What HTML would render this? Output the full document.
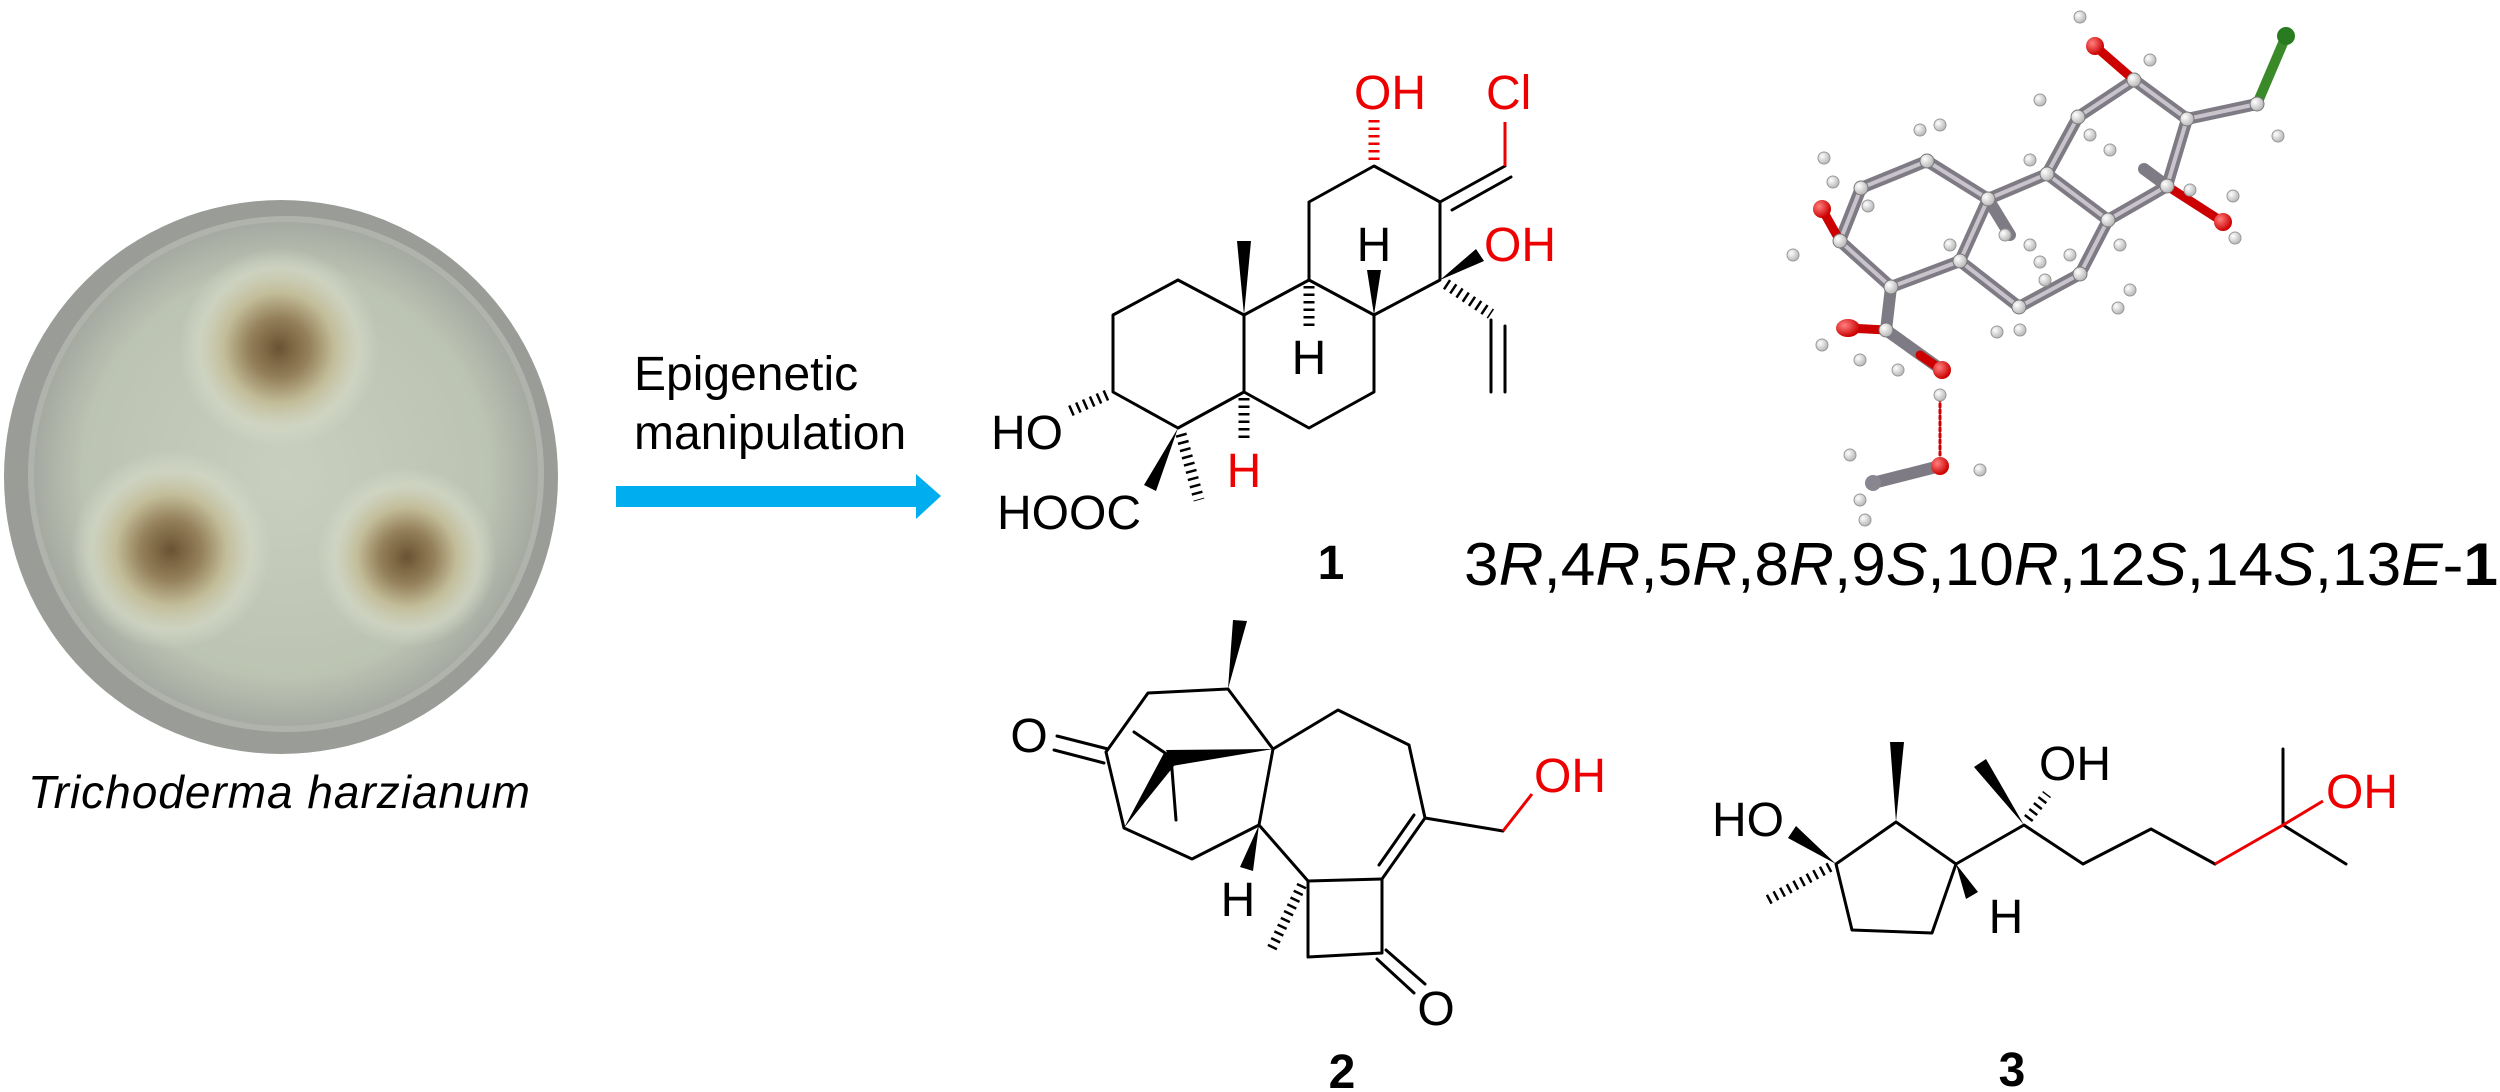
<!DOCTYPE html>
<html><head><meta charset="utf-8"><style>
html,body{margin:0;padding:0;background:#fff}
svg{display:block}
text{font-family:"Liberation Sans",Arial,sans-serif}
</style></head><body>
<svg width="2500" height="1092" viewBox="0 0 2500 1092" xmlns="http://www.w3.org/2000/svg">
<defs>
<radialGradient id="dish" cx="50%" cy="50%" r="50%">
<stop offset="0" stop-color="#c9cfbf"/><stop offset="0.8" stop-color="#bcc3b2"/><stop offset="1" stop-color="#a4a8a0"/>
</radialGradient>
<radialGradient id="col" cx="50%" cy="50%" r="50%">
<stop offset="0" stop-color="#6a5232"/><stop offset="0.3" stop-color="#94805a"/><stop offset="0.55" stop-color="#c2bc98"/><stop offset="0.8" stop-color="#d3d8c5" stop-opacity="0.7"/><stop offset="1" stop-color="#d6dacb" stop-opacity="0"/>
</radialGradient>
<radialGradient id="ball" cx="35%" cy="35%" r="65%"><stop offset="0" stop-color="#ffffff"/><stop offset="1" stop-color="#b9b9b9"/></radialGradient>
<radialGradient id="red" cx="35%" cy="35%" r="65%"><stop offset="0" stop-color="#ff8080"/><stop offset="1" stop-color="#cc0000"/></radialGradient>
</defs>

<!-- Petri dish -->
<circle cx="281" cy="477" r="277" fill="#999c97"/>
<circle cx="286" cy="474" r="255" fill="url(#dish)" stroke="#b0b3ac" stroke-width="6"/>
<circle cx="279" cy="348" r="100" fill="url(#col)"/>
<circle cx="171" cy="550" r="100" fill="url(#col)"/>
<circle cx="407" cy="557" r="90" fill="url(#col)"/>
<text x="28" y="808" font-size="46" font-style="italic" textLength="502">Trichoderma harzianum</text>

<!-- arrow -->
<text x="634" y="390" font-size="48">Epigenetic</text>
<text x="634" y="449" font-size="48">manipulation</text>
<rect x="616" y="486" width="304" height="21" fill="#00AEEF"/>
<polygon points="916,474 941,496 916,519" fill="#00AEEF"/>

<!-- Structure 1 -->
<g stroke="#000" stroke-width="3" fill="none" stroke-linejoin="round" stroke-linecap="round">
<polyline points="1178,280 1113,315 1113,392 1178,428 1244,392 1244,315 1178,280"/>
<polyline points="1244,315 1309,280 1374,315 1374,392 1309,428 1244,392"/>
<polyline points="1309,280 1309,202 1374,166 1440,202 1440,280 1374,315"/>
<line x1="1440" y1="202" x2="1505" y2="166"/>
<line x1="1452" y1="210" x2="1511" y2="177"/>
<line x1="1491" y1="320" x2="1491" y2="392"/>
<line x1="1505" y1="326" x2="1505" y2="392"/>
</g>
<line x1="1505" y1="166" x2="1505" y2="122" stroke="#e00" stroke-width="3"/>
<g fill="#000">
<polygon points="1244,315 1237,241 1251,241"/>
<polygon points="1374,315 1367,270 1381,270"/>
<polygon points="1440,280 1476,249 1484,261"/>
<polygon points="1178,428 1144,485 1156,491"/>
</g>
<g stroke="#000" stroke-width="11" stroke-dasharray="2.5 5" fill="none">
<line x1="1309" y1="286" x2="1309" y2="330"/>
<line x1="1446" y1="284" x2="1491" y2="314"/>
<line x1="1244" y1="398" x2="1244" y2="441"/>
<line x1="1107" y1="395" x2="1068" y2="412"/>
<line x1="1181" y1="434" x2="1199" y2="500"/>
</g>
<line x1="1374" y1="160" x2="1374" y2="119" stroke="#e00" stroke-width="11" stroke-dasharray="2.5 5"/>
<g font-size="48">
<text x="1354" y="109" fill="#e00">OH</text>
<text x="1486" y="109" fill="#e00">Cl</text>
<text x="1484" y="261" fill="#e00">OH</text>
<text x="1374" y="261" text-anchor="middle">H</text>
<text x="1309" y="374" text-anchor="middle">H</text>
<text x="1244" y="487" text-anchor="middle" fill="#e00">H</text>
<text x="991" y="449">HO</text>
<text x="997" y="529">HOOC</text>
<text x="1331" y="579" text-anchor="middle" font-weight="bold">1</text>
</g>

<!-- Crystal structure -->
<g stroke-linecap="round">
<g stroke="#7f7b85" stroke-width="12" fill="none">
<polyline points="2257,104 2187,119 2134,80 2078,117 2047,174 2108,220 2167,186 2187,119"/>
<polyline points="2047,174 1988,199 1927,161 1861,188 1840,241 1891,287 1960,261 1988,199"/>
<polyline points="1960,261 2019,307 2080,274 2108,220"/>
<polyline points="1891,287 1886,330 1942,370"/>
<line x1="1988" y1="199" x2="2010" y2="235"/>
<line x1="2167" y1="186" x2="2144" y2="169"/>
<line x1="1873" y1="483" x2="1940" y2="466"/>
</g>
<g stroke="#c9c3cc" stroke-width="4" fill="none">
<polyline points="2257,104 2187,119 2134,80 2078,117 2047,174 2108,220 2167,186 2187,119"/>
<polyline points="2047,174 1988,199 1927,161 1861,188 1840,241 1891,287 1960,261 1988,199"/>
<polyline points="1960,261 2019,307 2080,274 2108,220"/>
</g>
<line x1="2257" y1="104" x2="2286" y2="36" stroke="#3a8a2a" stroke-width="10"/>
<g stroke="#c00" stroke-width="9">
<line x1="2134" y1="80" x2="2095" y2="46"/><line x1="2167" y1="186" x2="2223" y2="222"/>
<line x1="1840" y1="241" x2="1822" y2="209"/><line x1="1886" y1="330" x2="1848" y2="328"/>
<line x1="1942" y1="370" x2="1920" y2="355"/>
</g>
<line x1="1940" y1="398" x2="1940" y2="456" stroke="#c00" stroke-width="3" stroke-dasharray="3 3"/>
</g>
<circle cx="2286" cy="36" r="9" fill="#2a7a20"/>
<g fill="url(#red)">
<circle cx="2095" cy="46" r="9"/><circle cx="2223" cy="222" r="9"/><circle cx="1822" cy="209" r="9"/>
<ellipse cx="1848" cy="328" rx="12" ry="9"/><circle cx="1942" cy="370" r="9"/><circle cx="1940" cy="466" r="9"/>
</g>
<g fill="url(#ball)" stroke="#999" stroke-width="1">
<circle cx="2080" cy="17" r="6"/><circle cx="2150" cy="60" r="6"/><circle cx="2040" cy="100" r="6"/><circle cx="2090" cy="135" r="6"/>
<circle cx="2278" cy="136" r="6"/><circle cx="2110" cy="150" r="6"/><circle cx="2030" cy="160" r="6"/><circle cx="2190" cy="190" r="6"/>
<circle cx="2233" cy="196" r="6"/><circle cx="2235" cy="238" r="6"/><circle cx="2120" cy="245" r="6"/><circle cx="2070" cy="255" r="6"/>
<circle cx="2130" cy="290" r="6"/><circle cx="2118" cy="308" r="6"/><circle cx="2020" cy="330" r="6"/><circle cx="1997" cy="332" r="6"/>
<circle cx="1950" cy="245" r="6"/><circle cx="2040" cy="262" r="6"/><circle cx="2045" cy="280" r="6"/><circle cx="1920" cy="130" r="6"/>
<circle cx="1940" cy="125" r="6"/><circle cx="1824" cy="158" r="6"/><circle cx="1833" cy="182" r="6"/><circle cx="1868" cy="206" r="6"/>
<circle cx="1793" cy="255" r="6"/><circle cx="1822" cy="345" r="6"/><circle cx="1860" cy="360" r="6"/><circle cx="1898" cy="370" r="6"/>
<circle cx="1940" cy="395" r="6"/><circle cx="1980" cy="470" r="6"/><circle cx="1850" cy="455" r="6"/><circle cx="1860" cy="500" r="6"/><circle cx="1865" cy="520" r="6"/>
<circle cx="2005" cy="235" r="6"/><circle cx="2030" cy="245" r="6"/>
</g>
<circle cx="1873" cy="483" r="8" fill="#8a8690"/>
<g fill="url(#ball)" stroke="#777" stroke-width="1">
<circle cx="2257" cy="104" r="7"/><circle cx="2187" cy="119" r="7"/><circle cx="2134" cy="80" r="7"/><circle cx="2078" cy="117" r="7"/>
<circle cx="2047" cy="174" r="7"/><circle cx="2108" cy="220" r="7"/><circle cx="2167" cy="186" r="7"/><circle cx="1988" cy="199" r="7"/>
<circle cx="1927" cy="161" r="7"/><circle cx="1861" cy="188" r="7"/><circle cx="1840" cy="241" r="7"/><circle cx="1891" cy="287" r="7"/>
<circle cx="1960" cy="261" r="7"/><circle cx="2019" cy="307" r="7"/><circle cx="2080" cy="274" r="7"/><circle cx="1886" cy="330" r="7"/>
</g>
<text x="1464" y="585" font-size="60" textLength="1034" lengthAdjust="spacingAndGlyphs">3<tspan font-style="italic">R</tspan>,4<tspan font-style="italic">R</tspan>,5<tspan font-style="italic">R</tspan>,8<tspan font-style="italic">R</tspan>,9<tspan font-style="italic">S</tspan>,10<tspan font-style="italic">R</tspan>,12<tspan font-style="italic">S</tspan>,14<tspan font-style="italic">S</tspan>,13<tspan font-style="italic">E</tspan>-<tspan font-weight="bold">1</tspan></text>

<!-- Structure 2 -->
<g stroke="#000" stroke-width="3" fill="none" stroke-linejoin="round" stroke-linecap="round">
<polyline points="1106,752 1148,693 1228,689 1273,749 1259,825 1192,859 1124,828 1106,752"/>
<polyline points="1273,749 1338,710 1409,745 1425,818 1382,879 1382,953 1308,957 1308,881 1259,825"/>
<line x1="1308" y1="881" x2="1382" y2="879"/>
<line x1="1379" y1="865" x2="1414" y2="815"/>
<line x1="1057" y1="736" x2="1108" y2="749"/>
<line x1="1054" y1="750" x2="1104" y2="763"/>
<line x1="1134" y1="732" x2="1171" y2="757"/>
<line x1="1171" y1="757" x2="1176" y2="820"/>
<line x1="1386" y1="950" x2="1425" y2="984"/>
<line x1="1377" y1="959" x2="1414" y2="993"/>
<line x1="1425" y1="818" x2="1503" y2="831"/>
</g>
<line x1="1503" y1="831" x2="1532" y2="794" stroke="#e00" stroke-width="3"/>
<g fill="#000">
<polygon points="1124,828 1164,753 1178,761"/>
<polygon points="1166,750 1172,766 1273,749"/>
<polygon points="1228,689 1233,620 1247,621"/>
<polygon points="1259,825 1240,867 1253,871"/>
</g>
<line x1="1302" y1="885" x2="1271" y2="950" stroke="#000" stroke-width="10" stroke-dasharray="2.5 5"/>
<g font-size="48">
<text x="1029" y="752" text-anchor="middle">O</text>
<text x="1436" y="1025" text-anchor="middle">O</text>
<text x="1238" y="916" text-anchor="middle">H</text>
<text x="1534" y="792" fill="#e00">OH</text>
<text x="1342" y="1088" text-anchor="middle" font-weight="bold">2</text>
</g>

<!-- Structure 3 -->
<g stroke="#000" stroke-width="3" fill="none" stroke-linejoin="round" stroke-linecap="round">
<polyline points="1836,864 1896,822 1956,864 1932,933 1852,930 1836,864"/>
<polyline points="1956,864 2024,825 2083,864 2151,829 2215,864"/>
<line x1="2283" y1="825" x2="2283" y2="749"/>
<line x1="2283" y1="825" x2="2346" y2="864"/>
</g>
<polyline points="2215,864 2283,825 2323,801" stroke="#e00" stroke-width="3" fill="none"/>
<g fill="#000">
<polygon points="1836,864 1788,838 1796,826"/>
<polygon points="1896,822 1890,742 1904,742"/>
<polygon points="1956,864 1966,899 1978,892"/>
<polygon points="2024,825 1974,767 1986,759"/>
</g>
<g stroke="#000" stroke-width="10" stroke-dasharray="2.5 5">
<line x1="1830" y1="867" x2="1764" y2="902"/>
<line x1="2028" y1="819" x2="2047" y2="794"/>
</g>
<g font-size="48">
<text x="1712" y="836">HO</text>
<text x="2006" y="933" text-anchor="middle">H</text>
<text x="2039" y="780">OH</text>
<text x="2326" y="808" fill="#e00">OH</text>
<text x="2012" y="1086" text-anchor="middle" font-weight="bold">3</text>
</g>
</svg>
</body></html>
